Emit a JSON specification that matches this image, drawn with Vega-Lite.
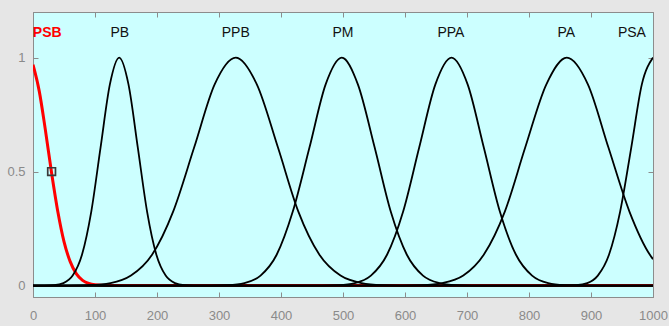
{
  "$schema": "https://vega.github.io/schema/vega-lite/v6.json",
  "autosize": {"type": "none"},
  "width": 620,
  "height": 285,
  "padding": {"left": 33, "top": 12, "right": 16, "bottom": 29},
  "background": "#e6e6e6",
  "config": {
    "view": {"fill": "#ccffff", "stroke": "#8c8c8c", "strokeWidth": 1},
    "axis": {
      "grid": false,
      "domainColor": "#8c8c8c",
      "tickColor": "#8c8c8c",
      "labelColor": "#8a8a8a",
      "labelFont": "Liberation Sans",
      "labelFontSize": 13,
      "tickSize": -5,
      "title": null
    }
  },
  "datasets": {
    "psb": [
      {"mf": "PSB", "x": 0, "y": 0.969},
      {"mf": "PSB", "x": 10, "y": 0.854},
      {"mf": "PSB", "x": 20, "y": 0.682},
      {"mf": "PSB", "x": 30, "y": 0.494},
      {"mf": "PSB", "x": 40, "y": 0.325},
      {"mf": "PSB", "x": 50, "y": 0.193},
      {"mf": "PSB", "x": 60, "y": 0.105},
      {"mf": "PSB", "x": 70, "y": 0.0513},
      {"mf": "PSB", "x": 80, "y": 0.0228},
      {"mf": "PSB", "x": 90, "y": 0.0092},
      {"mf": "PSB", "x": 100, "y": 0.0034},
      {"mf": "PSB", "x": 120, "y": 0.0003},
      {"mf": "PSB", "x": 1000, "y": 0}
    ],
    "others": [
      {"mf": "PB", "x": 0, "y": 0},
      {"mf": "PB", "x": 19, "y": 0.0003},
      {"mf": "PB", "x": 34, "y": 0.0022},
      {"mf": "PB", "x": 49, "y": 0.0111},
      {"mf": "PB", "x": 64, "y": 0.0439},
      {"mf": "PB", "x": 79, "y": 0.1353},
      {"mf": "PB", "x": 94, "y": 0.3247},
      {"mf": "PB", "x": 109, "y": 0.6065},
      {"mf": "PB", "x": 124, "y": 0.8825},
      {"mf": "PB", "x": 139, "y": 1},
      {"mf": "PB", "x": 154, "y": 0.8825},
      {"mf": "PB", "x": 169, "y": 0.6065},
      {"mf": "PB", "x": 184, "y": 0.3247},
      {"mf": "PB", "x": 199, "y": 0.1353},
      {"mf": "PB", "x": 214, "y": 0.0439},
      {"mf": "PB", "x": 229, "y": 0.0111},
      {"mf": "PB", "x": 244, "y": 0.0022},
      {"mf": "PB", "x": 259, "y": 0.0003},
      {"mf": "PB", "x": 1000, "y": 0},

      {"mf": "PPB", "x": 0, "y": 0},
      {"mf": "PPB", "x": 57, "y": 0.0003},
      {"mf": "PPB", "x": 91, "y": 0.0022},
      {"mf": "PPB", "x": 125, "y": 0.0111},
      {"mf": "PPB", "x": 158, "y": 0.0439},
      {"mf": "PPB", "x": 192, "y": 0.1353},
      {"mf": "PPB", "x": 226, "y": 0.3247},
      {"mf": "PPB", "x": 260, "y": 0.6065},
      {"mf": "PPB", "x": 293, "y": 0.8825},
      {"mf": "PPB", "x": 327, "y": 1},
      {"mf": "PPB", "x": 361, "y": 0.8825},
      {"mf": "PPB", "x": 395, "y": 0.6065},
      {"mf": "PPB", "x": 428, "y": 0.3247},
      {"mf": "PPB", "x": 462, "y": 0.1353},
      {"mf": "PPB", "x": 496, "y": 0.0439},
      {"mf": "PPB", "x": 530, "y": 0.0111},
      {"mf": "PPB", "x": 563, "y": 0.0022},
      {"mf": "PPB", "x": 597, "y": 0.0003},
      {"mf": "PPB", "x": 1000, "y": 0},

      {"mf": "PM", "x": 0, "y": 0},
      {"mf": "PM", "x": 288, "y": 0.0003},
      {"mf": "PM", "x": 314, "y": 0.0022},
      {"mf": "PM", "x": 341, "y": 0.0111},
      {"mf": "PM", "x": 367, "y": 0.0439},
      {"mf": "PM", "x": 393, "y": 0.1353},
      {"mf": "PM", "x": 419, "y": 0.3247},
      {"mf": "PM", "x": 446, "y": 0.6065},
      {"mf": "PM", "x": 472, "y": 0.8825},
      {"mf": "PM", "x": 498, "y": 1},
      {"mf": "PM", "x": 524, "y": 0.8825},
      {"mf": "PM", "x": 551, "y": 0.6065},
      {"mf": "PM", "x": 577, "y": 0.3247},
      {"mf": "PM", "x": 603, "y": 0.1353},
      {"mf": "PM", "x": 629, "y": 0.0439},
      {"mf": "PM", "x": 656, "y": 0.0111},
      {"mf": "PM", "x": 682, "y": 0.0022},
      {"mf": "PM", "x": 708, "y": 0.0003},
      {"mf": "PM", "x": 1000, "y": 0},

      {"mf": "PPA", "x": 0, "y": 0},
      {"mf": "PPA", "x": 467, "y": 0.0003},
      {"mf": "PPA", "x": 493, "y": 0.0022},
      {"mf": "PPA", "x": 519, "y": 0.0111},
      {"mf": "PPA", "x": 545, "y": 0.0439},
      {"mf": "PPA", "x": 571, "y": 0.1353},
      {"mf": "PPA", "x": 597, "y": 0.3247},
      {"mf": "PPA", "x": 623, "y": 0.6065},
      {"mf": "PPA", "x": 649, "y": 0.8825},
      {"mf": "PPA", "x": 675, "y": 1},
      {"mf": "PPA", "x": 701, "y": 0.8825},
      {"mf": "PPA", "x": 727, "y": 0.6065},
      {"mf": "PPA", "x": 753, "y": 0.3247},
      {"mf": "PPA", "x": 779, "y": 0.1353},
      {"mf": "PPA", "x": 805, "y": 0.0439},
      {"mf": "PPA", "x": 831, "y": 0.0111},
      {"mf": "PPA", "x": 857, "y": 0.0022},
      {"mf": "PPA", "x": 883, "y": 0.0003},
      {"mf": "PPA", "x": 1000, "y": 0},

      {"mf": "PA", "x": 0, "y": 0},
      {"mf": "PA", "x": 593, "y": 0.0003},
      {"mf": "PA", "x": 627, "y": 0.0022},
      {"mf": "PA", "x": 660, "y": 0.0111},
      {"mf": "PA", "x": 694, "y": 0.0439},
      {"mf": "PA", "x": 727, "y": 0.1353},
      {"mf": "PA", "x": 761, "y": 0.3247},
      {"mf": "PA", "x": 794, "y": 0.6065},
      {"mf": "PA", "x": 828, "y": 0.8825},
      {"mf": "PA", "x": 861, "y": 1},
      {"mf": "PA", "x": 895, "y": 0.8825},
      {"mf": "PA", "x": 928, "y": 0.6065},
      {"mf": "PA", "x": 962, "y": 0.3247},
      {"mf": "PA", "x": 995, "y": 0.1353},
      {"mf": "PA", "x": 1000, "y": 0.116},

      {"mf": "PSA", "x": 0, "y": 0},
      {"mf": "PSA", "x": 858, "y": 0.0003},
      {"mf": "PSA", "x": 876, "y": 0.0022},
      {"mf": "PSA", "x": 894, "y": 0.0111},
      {"mf": "PSA", "x": 911, "y": 0.0439},
      {"mf": "PSA", "x": 929, "y": 0.1353},
      {"mf": "PSA", "x": 947, "y": 0.3247},
      {"mf": "PSA", "x": 965, "y": 0.6065},
      {"mf": "PSA", "x": 982, "y": 0.8825},
      {"mf": "PSA", "x": 1000, "y": 1}
    ],
    "labels": [
      {"mf": "PB", "x": 140},
      {"mf": "PPB", "x": 327},
      {"mf": "PM", "x": 500},
      {"mf": "PPA", "x": 674},
      {"mf": "PA", "x": 860},
      {"mf": "PSA", "x": 966}
    ],
    "psblabel": [{"mf": "PSB", "x": 23}],
    "marker": [{"x": 30, "y": 0.5}]
  },
  "layer": [
    {
      "data": {"name": "psb"},
      "mark": {"type": "line", "color": "#ff0000", "strokeWidth": 3, "interpolate": "monotone", "clip": true},
      "encoding": {
        "x": {"field": "x", "type": "quantitative", "scale": {"domain": [0, 1000], "nice": false, "zero": false},
              "axis": {"orient": "bottom", "values": [0,100,200,300,400,500,600,700,800,900,1000], "format": "d", "labelPadding": 17, "labelFlush": false}},
        "y": {"field": "y", "type": "quantitative", "scale": {"domain": [-0.05, 1.2], "nice": false, "zero": false},
              "axis": {"orient": "left", "values": [0, 0.5, 1], "format": "~g", "labelPadding": 13}}
      }
    },
    {
      "data": {"name": "others"},
      "mark": {"type": "line", "color": "#000000", "strokeWidth": 1.8, "interpolate": "monotone", "clip": true},
      "encoding": {
        "x": {"field": "x", "type": "quantitative",
              "axis": {"orient": "top", "values": [0,100,200,300,400,500,600,700,800,900,1000], "labels": false}},
        "y": {"field": "y", "type": "quantitative",
              "axis": {"orient": "right", "values": [0, 0.5, 1], "labels": false}},
        "detail": {"field": "mf"}
      }
    },
    {
      "data": {"name": "marker"},
      "mark": {"type": "point", "shape": "square", "filled": false, "size": 60, "stroke": "#3a3a3a", "strokeWidth": 1.7, "opacity": 1},
      "encoding": {
        "x": {"field": "x", "type": "quantitative", "axis": null},
        "y": {"field": "y", "type": "quantitative", "axis": null}
      }
    },
    {
      "data": {"name": "labels"},
      "mark": {"type": "text", "font": "Liberation Sans", "fontSize": 14, "color": "#111111", "align": "center", "baseline": "middle"},
      "encoding": {
        "x": {"field": "x", "type": "quantitative", "axis": null},
        "y": {"datum": 1.11, "axis": null},
        "text": {"field": "mf"}
      }
    },
    {
      "data": {"name": "psblabel"},
      "mark": {"type": "text", "font": "Liberation Sans", "fontSize": 14, "fontWeight": "bold", "color": "#ff0000", "align": "center", "baseline": "middle"},
      "encoding": {
        "x": {"field": "x", "type": "quantitative", "axis": null},
        "y": {"datum": 1.11, "axis": null},
        "text": {"field": "mf"}
      }
    }
  ]
}
